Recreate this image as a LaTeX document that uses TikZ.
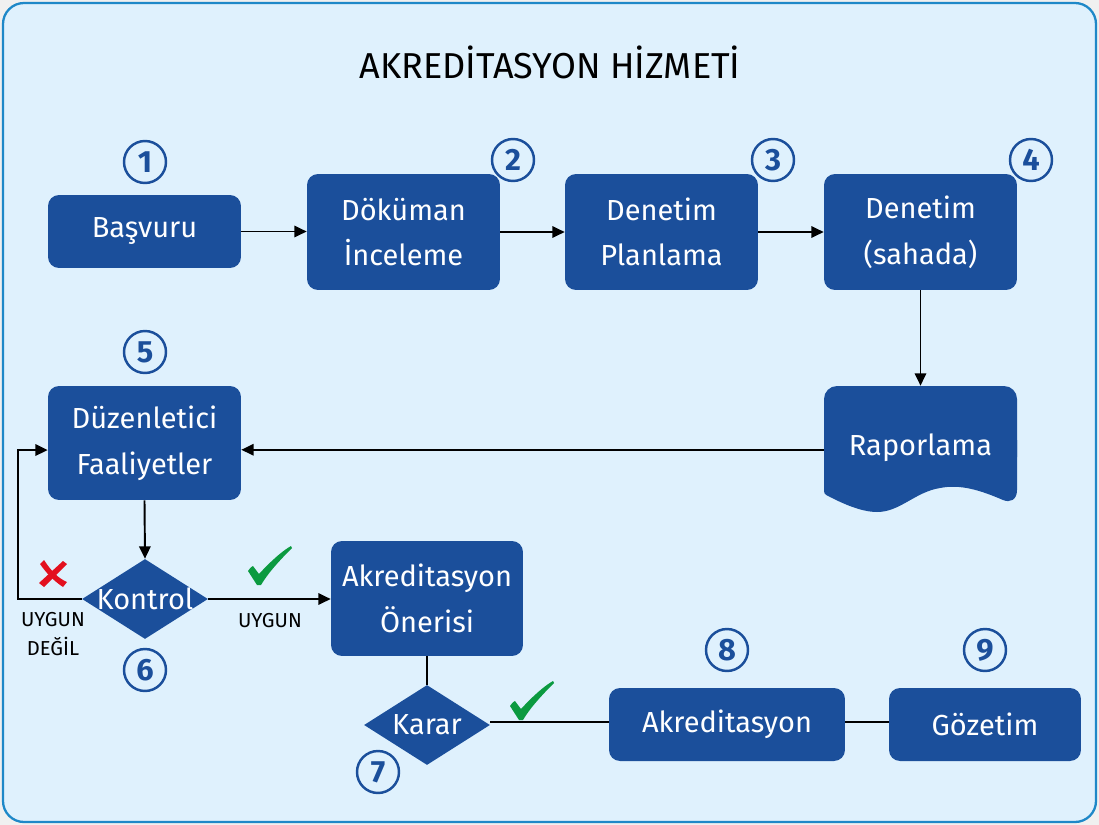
\documentclass[tikz,border=0pt]{standalone}
\usepackage{fontspec}
\setmainfont{Fira Sans}
\usetikzlibrary{shapes.geometric,arrows.meta}
\definecolor{boxblue}{HTML}{1B4F9B}
\definecolor{bgblue}{HTML}{DFF1FD}
\definecolor{bordblue}{HTML}{1E88C8}
\definecolor{okgreen}{HTML}{0B9A40}
\definecolor{nored}{HTML}{E3101E}
\begin{document}
\begin{tikzpicture}[x=0.02cm,y=-0.02cm,
  stepbox/.style={rectangle, rounded corners=0.22cm, fill=boxblue, text=white, align=center,
    font=\fontsize{16.5}{26}\selectfont, inner sep=0, minimum width=3.86cm},
  numc/.style={circle, draw=boxblue, line width=1.4pt, minimum size=0.84cm, inner sep=0,
    text=boxblue, font=\fontsize{17.5}{17.5}\selectfont\bfseries},
  decbox/.style={diamond, fill=boxblue, text=white, inner sep=0, aspect=1.575,
    minimum width=2.52cm, minimum height=1.6cm, font=\fontsize{16.5}{20}\selectfont},
  conn/.style={line width=1.1pt},
  arr/.style={conn, -{Triangle[length=7pt,width=6.5pt]}},
  lbl/.style={font=\fontsize{11.5}{16}\selectfont, align=center, inner sep=0},
  checkmark/.style={fill=okgreen}
]
\useasboundingbox (0,0) rectangle (1099,825);
\fill[white!94!black] (0,0) rectangle (1099,825);
\draw[fill=bgblue, draw=bordblue, line width=1.3pt, rounded corners=0.42cm] (3,3) rectangle (1096,822);

\node[font=\fontsize{20.5}{24}\selectfont, inner sep=0] (title) at (550,62) {AKREDİTASYON HİZMETİ};

% step boxes
\node[stepbox, minimum height=1.46cm] (bas) at (144.5,231.5) {Başvuru};
\node[stepbox, minimum height=2.32cm] (dok) at (403.5,232) {Döküman\\İnceleme};
\node[stepbox, minimum height=2.32cm] (pla) at (661.5,232) {Denetim\\Planlama};
\node[stepbox, minimum height=2.32cm] (sah) at (920.5,232) {Denetim\\(sahada)};
\node[stepbox, minimum height=2.28cm] (duz) at (144.5,443) {Düzenletici\\Faaliyetler};
\node[stepbox, minimum height=2.30cm, minimum width=3.84cm] (one) at (427,598.5) {Akreditasyon\\Önerisi};
\node[stepbox, minimum height=1.46cm, minimum width=4.72cm] (akr) at (727,724.5) {Akreditasyon};
\node[stepbox, minimum height=1.46cm, minimum width=3.84cm] (goz) at (985,724.5) {Gözetim};

% document shape (Raporlama)
\fill[boxblue, rounded corners=0.26cm] (824,470) -- (824,386) -- (1017,386) -- (1017,470) -- cycle;
\fill[boxblue] (824,440) -- (1017,440) -- (1017,490)
  .. controls (1017,500) and (1010,503) .. (1003,500)
  .. controls (980,490) and (960,484) .. (940,488)
  .. controls (915,492) and (900,512) .. (877,512)
  .. controls (860,512) and (840,502) .. (830,497)
  .. controls (824,494) .. (824,488) -- cycle;
\node[rectangle, inner sep=0, minimum width=3.86cm, minimum height=2.48cm, text=white,
  font=\fontsize{16.5}{26}\selectfont] (rap) at (920.5,448) {Raporlama};

% decisions
\node[decbox] (kon) at (145,599) {\makebox[0pt]{Kontrol}};
\node[decbox] (kar) at (427,725) {\makebox[0pt]{Karar}};

% numbers
\node[numc] (n1) at (145,162) {1};
\node[numc] (n2) at (513,160) {2};
\node[numc] (n3) at (773,160) {3};
\node[numc] (n4) at (1031,160) {4};
\node[numc] (n5) at (145,352) {5};
\node[numc] (n6) at (145,670) {6};
\node[numc] (n7) at (378,772) {7};
\node[numc] (n8) at (727,650) {8};
\node[numc] (n9) at (985,650) {9};

% connectors
\draw[arr] (bas.east) -- (bas.east -| dok.west);
\draw[arr] (dok.east) -- (pla.west);
\draw[arr] (pla.east) -- (sah.west);
\draw[arr] (sah.south) -- (rap.north);
\draw[arr] ([yshift=-1pt]rap.west) -- ([yshift=-1pt]rap.west -| duz.east);
\draw[arr] (duz.south) -- (kon.north);
\coordinate (loopc) at (18,599);
\draw[arr] (kon.west) -- (loopc) |- ([yshift=-4pt]duz.west);
\draw[arr] (kon.east) -- (kon.east -| one.west);
\draw[conn] (one.south) -- (kar.north);
\draw[conn] ([yshift=1.5pt]kar.east) -- ([yshift=1.5pt]kar.east -| akr.west);
\draw[conn] ([yshift=1.5pt]akr.east) -- ([yshift=1.5pt]goz.west);

% labels
\node[lbl] (uyd) at (53,634) {UYGUN\\DEĞİL};
\node[lbl] (uyg) at (270,621) {UYGUN};

% check marks
\fill[checkmark] (248,571) .. controls (251,567) .. (253,566) -- (259,574)
  .. controls (270,562) and (282,551) .. (291,546) -- (292,548)
  .. controls (280,560) and (268,573) .. (261,585) -- (257,585) -- cycle;
\begin{scope}[shift={(262,135)}]
\fill[checkmark] (248,571) .. controls (251,567) .. (253,566) -- (259,574)
  .. controls (270,562) and (282,551) .. (291,546) -- (292,548)
  .. controls (280,560) and (268,573) .. (261,585) -- (257,585) -- cycle;
\end{scope}

% red cross
\fill[nored] (39,583) -- (63,561) -- (67,564) -- (44,587) -- cycle;
\fill[nored] (40,564) -- (44,560) .. controls (52,572) and (58,578) .. (67,582) -- (63,587)
  .. controls (54,581) and (47,574) .. cycle;
\end{tikzpicture}
\end{document}
